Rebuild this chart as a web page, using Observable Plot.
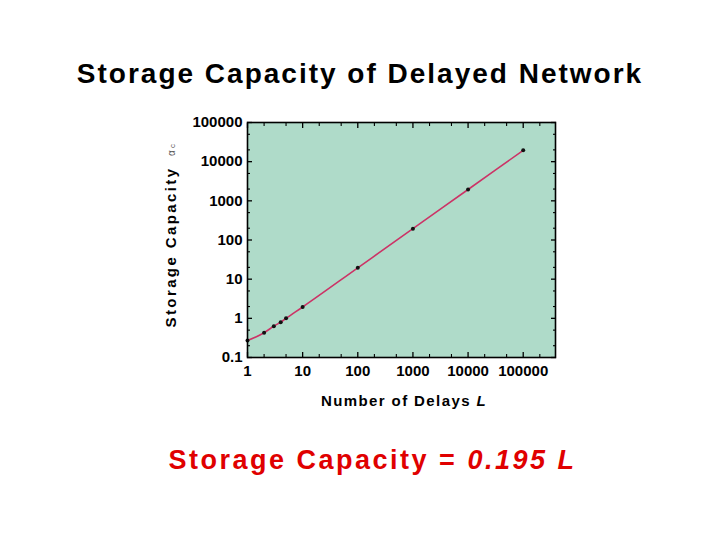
<!DOCTYPE html>
<html>
<head>
<meta charset="utf-8">
<script src="https://cdn.jsdelivr.net/npm/d3@7"></script>
<script src="https://cdn.jsdelivr.net/npm/@observablehq/plot@0.6"></script>
<style>
  html, body { margin: 0; padding: 0; background: #fff; }
  #wrap { position: relative; width: 720px; height: 540px; font-family: "Liberation Sans", Arial, sans-serif; }
  #title { position: absolute; left: 0; width: 720px; top: 58px; text-align: center; font-weight: bold; font-size: 28px; letter-spacing: 2px; color: #000; }
  #caption { position: absolute; left: 0; width: 745px; top: 445px; text-align: center; font-weight: bold; font-size: 27px; letter-spacing: 2.5px; color: #e00000; }
  #chart { position: absolute; left: 0; top: 0; }
</style>
</head>
<body>
<div id="wrap">
  <div id="chart"></div>
  <div id="title">Storage Capacity of Delayed Network</div>
  <div id="caption">Storage Capacity = <i>0.195 L</i></div>
</div>
<script>
const delays = [1, 2, 3, 4, 5, 10, 100, 1000, 10000, 100000];
const capacity = [0.27, 0.43, 0.63, 0.80, 1.0, 1.95, 19.5, 195, 1950, 19500];
const xTicks = [1, 10, 100, 1000, 10000, 100000];
const yTicks = [0.1, 1, 10, 100, 1000, 10000, 100000];
const xMinor = [2, 5, 20, 50, 200, 500, 2000, 5000, 20000, 50000, 200000];
const yMinor = [0.2, 0.5, 2, 5, 20, 50, 200, 500, 2000, 5000, 20000, 50000];

const data = delays.map((L, i) => ({L, c: capacity[i]}));
const font = "'Liberation Sans', Arial, sans-serif";

const tickOpts = (anchor, size, w) => ({anchor, tickSize: size, text: null, label: null, strokeWidth: w});

const chart = Plot.plot({
  width: 720,
  height: 540,
  marginLeft: 247,
  marginRight: 165,
  marginTop: 122,
  marginBottom: 183,
  style: {fontFamily: font, fontSize: "15px", fontWeight: "bold", color: "#000", background: "transparent"},
  x: {type: "log", domain: [1, 385000], label: null},
  y: {type: "log", domain: [0.1, 100000], label: null},
  marks: [
    Plot.frame({fill: "#afdbc9"}),
    // inner tick marks
    Plot.axisX(xTicks, tickOpts("bottom", -5, 1.3)),
    Plot.axisX(xTicks, tickOpts("top", -5, 1.3)),
    Plot.axisX(xMinor, tickOpts("bottom", -3, 1.1)),
    Plot.axisX(xMinor, tickOpts("top", -3, 1.1)),
    Plot.axisY(yTicks, tickOpts("left", -5, 1.3)),
    Plot.axisY(yTicks, tickOpts("right", -5, 1.3)),
    Plot.axisY(yMinor, tickOpts("left", -3, 1.1)),
    Plot.axisY(yMinor, tickOpts("right", -3, 1.1)),
    // labels
    Plot.axisX(xTicks, {anchor: "bottom", tickSize: 0, tickPadding: 8, tickFormat: d => String(d), label: null, fontSize: 15, fontWeight: "bold"}),
    Plot.axisY(yTicks, {anchor: "left", tickSize: 0, tickPadding: 5, tickFormat: d => String(d), label: null, fontSize: 15, fontWeight: "bold"}),
    Plot.line(data, {x: "L", y: "c", stroke: "#cc3366", strokeWidth: 1.6, curve: "monotone-x"}),
    Plot.dot(data, {x: "L", y: "c", r: 2, fill: "#111", stroke: "none"}),
    Plot.frame({stroke: "#000", strokeWidth: 1.6})
  ]
});
document.getElementById("chart").appendChild(chart);

// axis titles
const svg = d3.select(chart);
const xt = svg.append("text")
  .attr("x", 404).attr("y", 406)
  .attr("text-anchor", "middle")
  .style("font-family", font).style("font-size", "15px").style("font-weight", "bold")
  .style("letter-spacing", "1.4px");
xt.append("tspan").text("Number of Delays ");
xt.append("tspan").style("font-style", "italic").text("L");

const yt = svg.append("text")
  .attr("transform", "translate(176,247) rotate(-90)")
  .attr("text-anchor", "middle")
  .style("font-family", font).style("font-size", "15px").style("font-weight", "bold")
  .style("letter-spacing", "2.4px")
  .text("Storage Capacity");
const ya = svg.append("text")
  .attr("transform", "translate(175,150) rotate(-90)")
  .attr("text-anchor", "middle")
  .style("font-family", font).style("font-size", "10px").style("font-weight", "normal")
  .style("fill", "#555");
ya.append("tspan").text("α");
ya.append("tspan").attr("dx", 2).style("font-size", "8px").text("c");
</script>
</body>
</html>
